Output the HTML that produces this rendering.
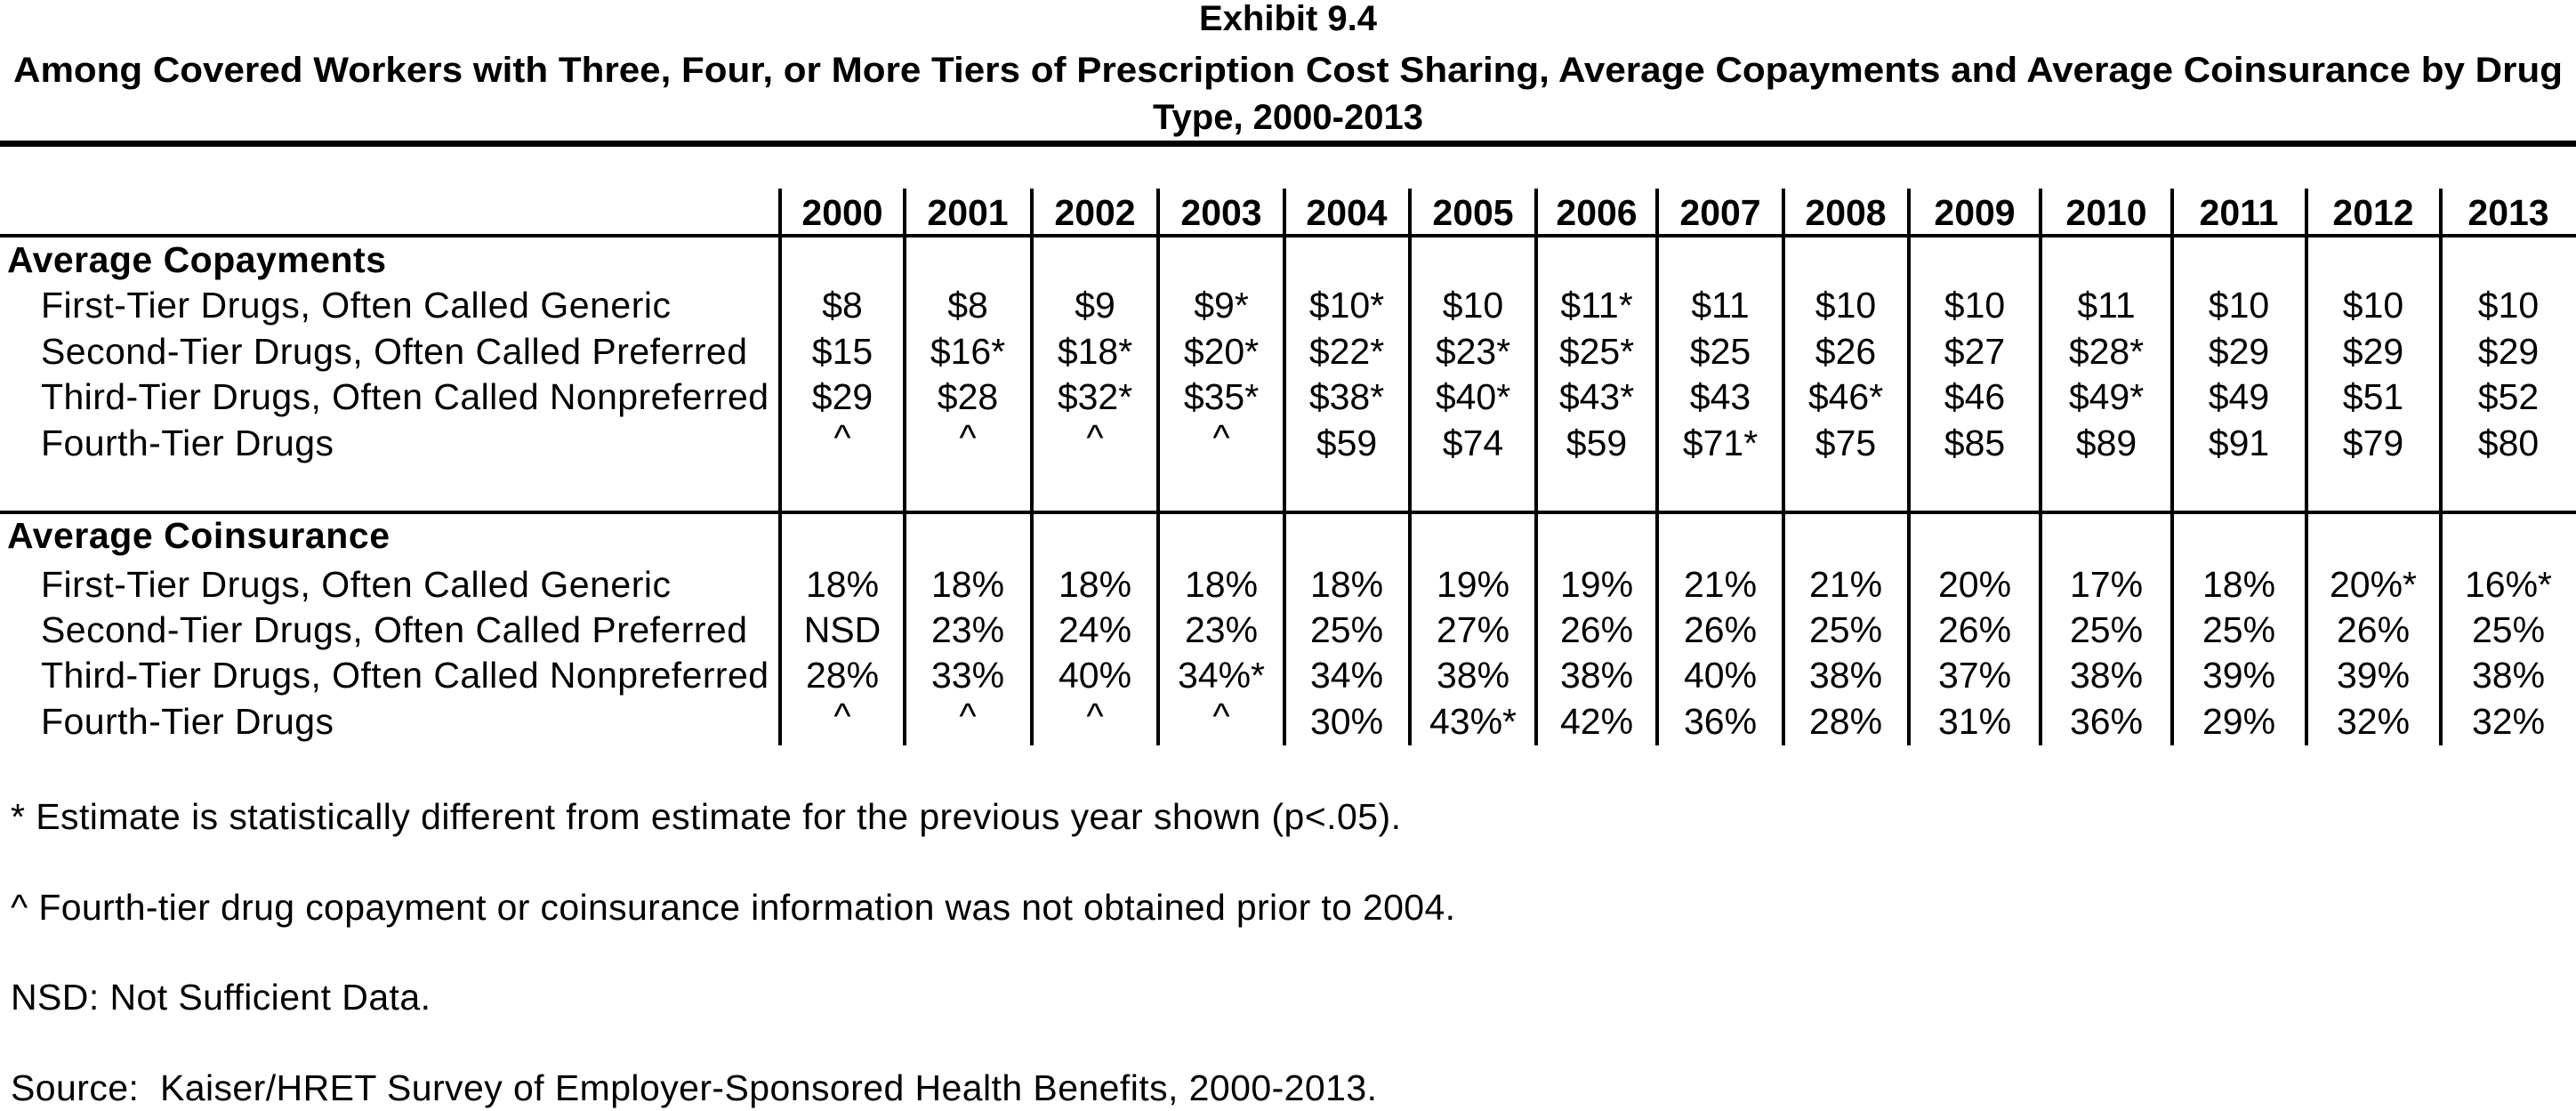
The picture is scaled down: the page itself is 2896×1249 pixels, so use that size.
<!DOCTYPE html>
<html><head><meta charset="utf-8"><style>body{margin:0;background:#fff}svg{display:block}</style></head><body>
<svg width="2896" height="1249" xmlns="http://www.w3.org/2000/svg" font-family="Liberation Sans, Arial, sans-serif" fill="#000">
<text x="1448" y="34" font-size="40" font-weight="bold" text-anchor="middle">Exhibit 9.4</text>
<text x="1448" y="92" font-size="40" font-weight="bold" text-anchor="middle" textLength="2866" lengthAdjust="spacingAndGlyphs">Among Covered Workers with Three, Four, or More Tiers of Prescription Cost Sharing, Average Copayments and Average Coinsurance by Drug</text>
<text x="1448" y="145" font-size="40" font-weight="bold" text-anchor="middle">Type, 2000-2013</text>
<rect x="0" y="158" width="2896" height="7"/>
<rect x="0" y="263" width="2896" height="4"/>
<rect x="0" y="574" width="2896" height="4"/>
<g>
<rect x="875" y="212" width="4" height="626"/><rect x="1015" y="212" width="4" height="626"/><rect x="1158" y="212" width="4" height="626"/><rect x="1300" y="212" width="4" height="626"/><rect x="1442" y="212" width="4" height="626"/><rect x="1583" y="212" width="4" height="626"/><rect x="1725" y="212" width="4" height="626"/><rect x="1861" y="212" width="4" height="626"/><rect x="2003" y="212" width="4" height="626"/><rect x="2144" y="212" width="4" height="626"/><rect x="2292" y="212" width="4" height="626"/><rect x="2440" y="212" width="4" height="626"/><rect x="2591" y="212" width="4" height="626"/><rect x="2742" y="212" width="4" height="626"/>
</g>
<g font-size="41" lengthAdjust="spacingAndGlyphs">
<text x="8" y="306" font-weight="bold" textLength="426">Average Copayments</text>
<text x="46" y="357" textLength="708">First-Tier Drugs, Often Called Generic</text>
<text x="46" y="409" textLength="794">Second-Tier Drugs, Often Called Preferred</text>
<text x="46" y="460" textLength="818">Third-Tier Drugs, Often Called Nonpreferred</text>
<text x="46" y="512" textLength="329">Fourth-Tier Drugs</text>
<text x="8" y="616" font-weight="bold" textLength="430">Average Coinsurance</text>
<text x="46" y="671" textLength="708">First-Tier Drugs, Often Called Generic</text>
<text x="46" y="722" textLength="794">Second-Tier Drugs, Often Called Preferred</text>
<text x="46" y="773" textLength="818">Third-Tier Drugs, Often Called Nonpreferred</text>
<text x="46" y="825" textLength="329">Fourth-Tier Drugs</text>
</g>
<g font-size="41" text-anchor="middle">
<g font-weight="bold">
<text x="947" y="253">2000</text><text x="1088" y="253">2001</text><text x="1231" y="253">2002</text><text x="1373" y="253">2003</text><text x="1514" y="253">2004</text><text x="1656" y="253">2005</text><text x="1795" y="253">2006</text><text x="1934" y="253">2007</text><text x="2075" y="253">2008</text><text x="2220" y="253">2009</text><text x="2368" y="253">2010</text><text x="2517" y="253">2011</text><text x="2668" y="253">2012</text><text x="2820" y="253">2013</text>
</g>
<g>
<text x="947" y="357">$8</text><text x="1088" y="357">$8</text><text x="1231" y="357">$9</text><text x="1373" y="357">$9*</text><text x="1514" y="357">$10*</text><text x="1656" y="357">$10</text><text x="1795" y="357">$11*</text><text x="1934" y="357">$11</text><text x="2075" y="357">$10</text><text x="2220" y="357">$10</text><text x="2368" y="357">$11</text><text x="2517" y="357">$10</text><text x="2668" y="357">$10</text><text x="2820" y="357">$10</text>
<text x="947" y="409">$15</text><text x="1088" y="409">$16*</text><text x="1231" y="409">$18*</text><text x="1373" y="409">$20*</text><text x="1514" y="409">$22*</text><text x="1656" y="409">$23*</text><text x="1795" y="409">$25*</text><text x="1934" y="409">$25</text><text x="2075" y="409">$26</text><text x="2220" y="409">$27</text><text x="2368" y="409">$28*</text><text x="2517" y="409">$29</text><text x="2668" y="409">$29</text><text x="2820" y="409">$29</text>
<text x="947" y="460">$29</text><text x="1088" y="460">$28</text><text x="1231" y="460">$32*</text><text x="1373" y="460">$35*</text><text x="1514" y="460">$38*</text><text x="1656" y="460">$40*</text><text x="1795" y="460">$43*</text><text x="1934" y="460">$43</text><text x="2075" y="460">$46*</text><text x="2220" y="460">$46</text><text x="2368" y="460">$49*</text><text x="2517" y="460">$49</text><text x="2668" y="460">$51</text><text x="2820" y="460">$52</text>
<text x="947" y="506">^</text><text x="1088" y="506">^</text><text x="1231" y="506">^</text><text x="1373" y="506">^</text><text x="1514" y="512">$59</text><text x="1656" y="512">$74</text><text x="1795" y="512">$59</text><text x="1934" y="512">$71*</text><text x="2075" y="512">$75</text><text x="2220" y="512">$85</text><text x="2368" y="512">$89</text><text x="2517" y="512">$91</text><text x="2668" y="512">$79</text><text x="2820" y="512">$80</text>
<text x="947" y="671">18%</text><text x="1088" y="671">18%</text><text x="1231" y="671">18%</text><text x="1373" y="671">18%</text><text x="1514" y="671">18%</text><text x="1656" y="671">19%</text><text x="1795" y="671">19%</text><text x="1934" y="671">21%</text><text x="2075" y="671">21%</text><text x="2220" y="671">20%</text><text x="2368" y="671">17%</text><text x="2517" y="671">18%</text><text x="2668" y="671">20%*</text><text x="2820" y="671">16%*</text>
<text x="947" y="722">NSD</text><text x="1088" y="722">23%</text><text x="1231" y="722">24%</text><text x="1373" y="722">23%</text><text x="1514" y="722">25%</text><text x="1656" y="722">27%</text><text x="1795" y="722">26%</text><text x="1934" y="722">26%</text><text x="2075" y="722">25%</text><text x="2220" y="722">26%</text><text x="2368" y="722">25%</text><text x="2517" y="722">25%</text><text x="2668" y="722">26%</text><text x="2820" y="722">25%</text>
<text x="947" y="773">28%</text><text x="1088" y="773">33%</text><text x="1231" y="773">40%</text><text x="1373" y="773">34%*</text><text x="1514" y="773">34%</text><text x="1656" y="773">38%</text><text x="1795" y="773">38%</text><text x="1934" y="773">40%</text><text x="2075" y="773">38%</text><text x="2220" y="773">37%</text><text x="2368" y="773">38%</text><text x="2517" y="773">39%</text><text x="2668" y="773">39%</text><text x="2820" y="773">38%</text>
<text x="947" y="819">^</text><text x="1088" y="819">^</text><text x="1231" y="819">^</text><text x="1373" y="819">^</text><text x="1514" y="825">30%</text><text x="1656" y="825">43%*</text><text x="1795" y="825">42%</text><text x="1934" y="825">36%</text><text x="2075" y="825">28%</text><text x="2220" y="825">31%</text><text x="2368" y="825">36%</text><text x="2517" y="825">29%</text><text x="2668" y="825">32%</text><text x="2820" y="825">32%</text>
</g>
</g>
<g font-size="41" lengthAdjust="spacingAndGlyphs">
<text x="12" y="932" textLength="1563">* Estimate is statistically different from estimate for the previous year shown (p&lt;.05).</text>
<text x="12" y="1034" textLength="1624">^ Fourth-tier drug copayment or coinsurance information was not obtained prior to 2004.</text>
<text x="12" y="1135" textLength="472">NSD: Not Sufficient Data.</text>
<text x="12" y="1237" textLength="1536">Source:&#160; Kaiser/HRET Survey of Employer-Sponsored Health Benefits, 2000-2013.</text>
</g>
</svg>
</body></html>
